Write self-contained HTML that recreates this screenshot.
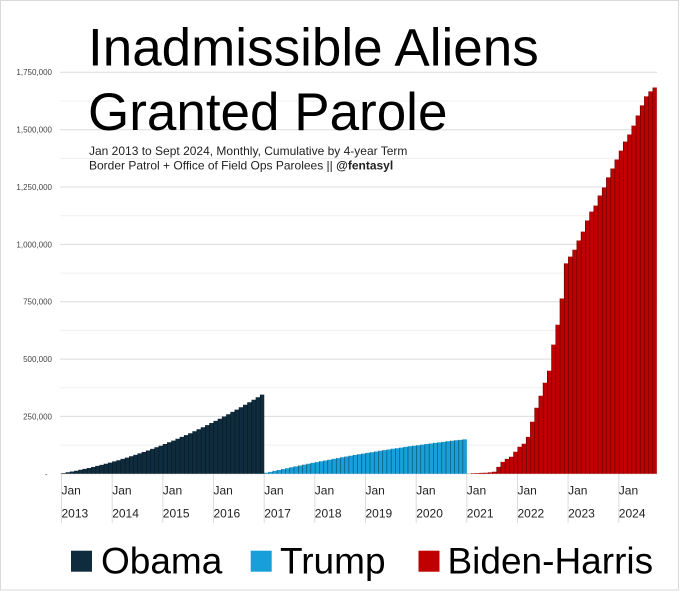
<!DOCTYPE html>
<html>
<head>
<meta charset="utf-8">
<style>
  html, body { margin:0; padding:0; background:#fff; }
  body { width:680px; height:591px; overflow:hidden; }
  svg { display:block; font-family:"Liberation Sans", Arial, sans-serif; }
</style>
</head>
<body>
<svg width="680" height="591" viewBox="0 0 680 591" xmlns="http://www.w3.org/2000/svg">
  <defs>
    <pattern id="sep" patternUnits="userSpaceOnUse" x="61.5" y="0" width="4.2222" height="591">
      <rect x="0" y="0" width="0.55" height="591" fill="#000" fill-opacity="0.6"/>
    </pattern>
  </defs>
  <rect x="0.5" y="0.5" width="678" height="589.5" fill="#fff" stroke="#d9d9d9" stroke-width="1"/>

  <!-- minor gridlines -->
  <g stroke="#efefef" stroke-width="1">
    <line x1="60" x2="657" y1="445.1" y2="445.1"/>
    <line x1="60" x2="657" y1="387.8" y2="387.8"/>
    <line x1="60" x2="657" y1="330.4" y2="330.4"/>
    <line x1="60" x2="657" y1="273.1" y2="273.1"/>
    <line x1="60" x2="657" y1="215.7" y2="215.7"/>
    <line x1="60" x2="657" y1="158.4" y2="158.4"/>
    <line x1="60" x2="657" y1="101.0" y2="101.0"/>
  </g>
  <!-- major gridlines -->
  <g stroke="#dcdcdc" stroke-width="1">
    <line x1="60" x2="657" y1="416.4" y2="416.4"/>
    <line x1="60" x2="657" y1="359.1" y2="359.1"/>
    <line x1="60" x2="657" y1="301.7" y2="301.7"/>
    <line x1="60" x2="657" y1="244.4" y2="244.4"/>
    <line x1="60" x2="657" y1="187.0" y2="187.0"/>
    <line x1="60" x2="657" y1="129.7" y2="129.7"/>
    <line x1="60" x2="657" y1="72.3" y2="72.3"/>
    <line x1="60" x2="657" y1="473.8" y2="473.8"/>
  </g>

  <!-- y-axis labels -->
  <g font-size="8" fill="#444" text-anchor="end">
    <text x="52" y="75.2">1,750,000</text>
    <text x="52" y="132.6">1,500,000</text>
    <text x="52" y="189.9">1,250,000</text>
    <text x="52" y="247.3">1,000,000</text>
    <text x="52" y="304.6">750,000</text>
    <text x="52" y="362.0">500,000</text>
    <text x="52" y="419.3">250,000</text>
    <text x="47.5" y="477">-</text>
  </g>

  <!-- x ticks -->
  <g stroke="#dcdcdc" stroke-width="1">
    <line x1="61.5" x2="61.5" y1="474" y2="523"/>
    <line x1="112.2" x2="112.2" y1="474" y2="523"/>
    <line x1="162.8" x2="162.8" y1="474" y2="523"/>
    <line x1="213.5" x2="213.5" y1="474" y2="523"/>
    <line x1="264.2" x2="264.2" y1="474" y2="523"/>
    <line x1="314.8" x2="314.8" y1="474" y2="523"/>
    <line x1="365.5" x2="365.5" y1="474" y2="523"/>
    <line x1="416.2" x2="416.2" y1="474" y2="523"/>
    <line x1="466.8" x2="466.8" y1="474" y2="523"/>
    <line x1="517.5" x2="517.5" y1="474" y2="523"/>
    <line x1="568.1" x2="568.1" y1="474" y2="523"/>
    <line x1="618.8" x2="618.8" y1="474" y2="523"/>
  </g>

  <!-- bars -->
  <path fill="#0f2c3e" d="M61.5,473.8 V473.1 H65.7 V472.3 H69.9 V471.5 H74.2 V470.7 H78.4 V469.8 H82.6 V468.9 H86.8 V468.0 H91.1 V467.0 H95.3 V465.9 H99.5 V464.9 H103.7 V463.8 H107.9 V462.6 H112.2 V461.4 H116.4 V460.2 H120.6 V458.9 H124.8 V457.6 H129.1 V456.3 H133.3 V454.9 H137.5 V453.4 H141.7 V452.0 H145.9 V450.5 H150.2 V448.9 H154.4 V447.3 H158.6 V445.7 H162.8 V444.0 H167.1 V442.3 H171.3 V440.6 H175.5 V438.8 H179.7 V436.9 H183.9 V435.1 H188.2 V433.2 H192.4 V431.2 H196.6 V429.2 H200.8 V427.2 H205.1 V425.1 H209.3 V423.0 H213.5 V420.9 H217.7 V418.7 H221.9 V416.5 H226.2 V414.2 H230.4 V411.9 H234.6 V409.6 H238.8 V407.2 H243.1 V404.7 H247.3 V402.3 H251.5 V399.8 H255.7 V397.2 H259.9 V394.6 H264.2 V473.8 Z"/>
  <path fill="#169fd9" d="M264.2,473.8 V472.8 H268.4 V471.9 H272.6 V470.9 H276.8 V470.0 H281.0 V469.1 H285.3 V468.2 H289.5 V467.3 H293.7 V466.4 H297.9 V465.5 H302.2 V464.6 H306.4 V463.8 H310.6 V462.9 H314.8 V462.1 H319.0 V461.3 H323.3 V460.5 H327.5 V459.7 H331.7 V458.9 H335.9 V458.1 H340.2 V457.3 H344.4 V456.5 H348.6 V455.8 H352.8 V455.0 H357.0 V454.3 H361.3 V453.6 H365.5 V452.9 H369.7 V452.2 H373.9 V451.5 H378.2 V450.8 H382.4 V450.1 H386.6 V449.5 H390.8 V448.8 H395.0 V448.2 H399.3 V447.6 H403.5 V446.9 H407.7 V446.3 H411.9 V445.7 H416.2 V445.2 H420.4 V444.6 H424.6 V444.0 H428.8 V443.5 H433.0 V442.9 H437.3 V442.4 H441.5 V441.9 H445.7 V441.3 H449.9 V440.8 H454.2 V440.3 H458.4 V439.9 H462.6 V439.4 H466.8 V473.8 Z"/>
  <path fill="#c00000" d="M466.8,473.8 V473.6 H471.0 V473.3 H475.3 V473.1 H479.5 V472.9 H483.7 V472.7 H487.9 V472.4 H492.1 V471.7 H496.4 V466.9 H500.6 V461.9 H504.8 V458.9 H509.0 V456.8 H513.3 V451.8 H517.5 V446.7 H521.7 V443.7 H525.9 V436.9 H530.1 V421.7 H534.4 V407.7 H538.6 V395.8 H542.8 V382.7 H547.0 V370.8 H551.3 V344.6 H555.5 V324.7 H559.7 V298.5 H563.9 V263.4 H568.1 V256.6 H572.4 V249.7 H576.6 V240.5 H580.8 V231.6 H585.0 V220.5 H589.3 V211.6 H593.5 V205.6 H597.7 V195.5 H601.9 V187.5 H606.1 V177.4 H610.4 V168.5 H614.6 V159.5 H618.8 V150.6 H623.0 V141.6 H627.3 V134.5 H631.5 V125.6 H635.7 V115.5 H639.9 V105.4 H644.1 V96.4 H648.4 V91.4 H652.6 V87.5 H656.8 V473.8 Z"/>

  <!-- bar separators -->
  <path fill="url(#sep)" d="M61.5,473.8 V473.1 H65.7 V472.3 H69.9 V471.5 H74.2 V470.7 H78.4 V469.8 H82.6 V468.9 H86.8 V468.0 H91.1 V467.0 H95.3 V465.9 H99.5 V464.9 H103.7 V463.8 H107.9 V462.6 H112.2 V461.4 H116.4 V460.2 H120.6 V458.9 H124.8 V457.6 H129.1 V456.3 H133.3 V454.9 H137.5 V453.4 H141.7 V452.0 H145.9 V450.5 H150.2 V448.9 H154.4 V447.3 H158.6 V445.7 H162.8 V444.0 H167.1 V442.3 H171.3 V440.6 H175.5 V438.8 H179.7 V436.9 H183.9 V435.1 H188.2 V433.2 H192.4 V431.2 H196.6 V429.2 H200.8 V427.2 H205.1 V425.1 H209.3 V423.0 H213.5 V420.9 H217.7 V418.7 H221.9 V416.5 H226.2 V414.2 H230.4 V411.9 H234.6 V409.6 H238.8 V407.2 H243.1 V404.7 H247.3 V402.3 H251.5 V399.8 H255.7 V397.2 H259.9 V394.6 H264.2 V473.8 Z"/>
  <path fill="url(#sep)" d="M264.2,473.8 V472.8 H268.4 V471.9 H272.6 V470.9 H276.8 V470.0 H281.0 V469.1 H285.3 V468.2 H289.5 V467.3 H293.7 V466.4 H297.9 V465.5 H302.2 V464.6 H306.4 V463.8 H310.6 V462.9 H314.8 V462.1 H319.0 V461.3 H323.3 V460.5 H327.5 V459.7 H331.7 V458.9 H335.9 V458.1 H340.2 V457.3 H344.4 V456.5 H348.6 V455.8 H352.8 V455.0 H357.0 V454.3 H361.3 V453.6 H365.5 V452.9 H369.7 V452.2 H373.9 V451.5 H378.2 V450.8 H382.4 V450.1 H386.6 V449.5 H390.8 V448.8 H395.0 V448.2 H399.3 V447.6 H403.5 V446.9 H407.7 V446.3 H411.9 V445.7 H416.2 V445.2 H420.4 V444.6 H424.6 V444.0 H428.8 V443.5 H433.0 V442.9 H437.3 V442.4 H441.5 V441.9 H445.7 V441.3 H449.9 V440.8 H454.2 V440.3 H458.4 V439.9 H462.6 V439.4 H466.8 V473.8 Z"/>
  <path fill="url(#sep)" d="M466.8,473.8 V473.6 H471.0 V473.3 H475.3 V473.1 H479.5 V472.9 H483.7 V472.7 H487.9 V472.4 H492.1 V471.7 H496.4 V466.9 H500.6 V461.9 H504.8 V458.9 H509.0 V456.8 H513.3 V451.8 H517.5 V446.7 H521.7 V443.7 H525.9 V436.9 H530.1 V421.7 H534.4 V407.7 H538.6 V395.8 H542.8 V382.7 H547.0 V370.8 H551.3 V344.6 H555.5 V324.7 H559.7 V298.5 H563.9 V263.4 H568.1 V256.6 H572.4 V249.7 H576.6 V240.5 H580.8 V231.6 H585.0 V220.5 H589.3 V211.6 H593.5 V205.6 H597.7 V195.5 H601.9 V187.5 H606.1 V177.4 H610.4 V168.5 H614.6 V159.5 H618.8 V150.6 H623.0 V141.6 H627.3 V134.5 H631.5 V125.6 H635.7 V115.5 H639.9 V105.4 H644.1 V96.4 H648.4 V91.4 H652.6 V87.5 H656.8 V473.8 Z"/>

  <!-- x-axis labels -->
  <g font-size="12" fill="#222">
    <text x="61.5" y="494.3">Jan</text><text x="61.5" y="517.3">2013</text>
    <text x="112.2" y="494.3">Jan</text><text x="112.2" y="517.3">2014</text>
    <text x="162.8" y="494.3">Jan</text><text x="162.8" y="517.3">2015</text>
    <text x="213.5" y="494.3">Jan</text><text x="213.5" y="517.3">2016</text>
    <text x="264.2" y="494.3">Jan</text><text x="264.2" y="517.3">2017</text>
    <text x="314.8" y="494.3">Jan</text><text x="314.8" y="517.3">2018</text>
    <text x="365.5" y="494.3">Jan</text><text x="365.5" y="517.3">2019</text>
    <text x="416.2" y="494.3">Jan</text><text x="416.2" y="517.3">2020</text>
    <text x="466.8" y="494.3">Jan</text><text x="466.8" y="517.3">2021</text>
    <text x="517.5" y="494.3">Jan</text><text x="517.5" y="517.3">2022</text>
    <text x="568.1" y="494.3">Jan</text><text x="568.1" y="517.3">2023</text>
    <text x="618.8" y="494.3">Jan</text><text x="618.8" y="517.3">2024</text>
  </g>

  <!-- title -->
  <g fill="#000" font-size="53">
    <text x="88" y="65.7">Inadmissible Aliens</text>
    <text x="88" y="130">Granted Parole</text>
  </g>
  <g fill="#222" font-size="12">
    <text x="89" y="155">Jan 2013 to Sept 2024, Monthly, Cumulative by 4-year Term</text>
    <text x="89" y="169.3">Border Patrol + Office of Field Ops Parolees || <tspan font-weight="bold">@fentasyl</tspan></text>
  </g>

  <!-- legend -->
  <rect x="71" y="550.7" width="21" height="21" fill="#0f2c3e"/>
  <rect x="250.7" y="550.7" width="21" height="21" fill="#169fd9"/>
  <rect x="418.5" y="550.7" width="21" height="21" fill="#c00000"/>
  <g font-size="37" fill="#000">
    <text x="101" y="573.3">Obama</text>
    <text x="280" y="573.3">Trump</text>
    <text x="447.5" y="573.3">Biden-Harris</text>
  </g>
</svg>
</body>
</html>
